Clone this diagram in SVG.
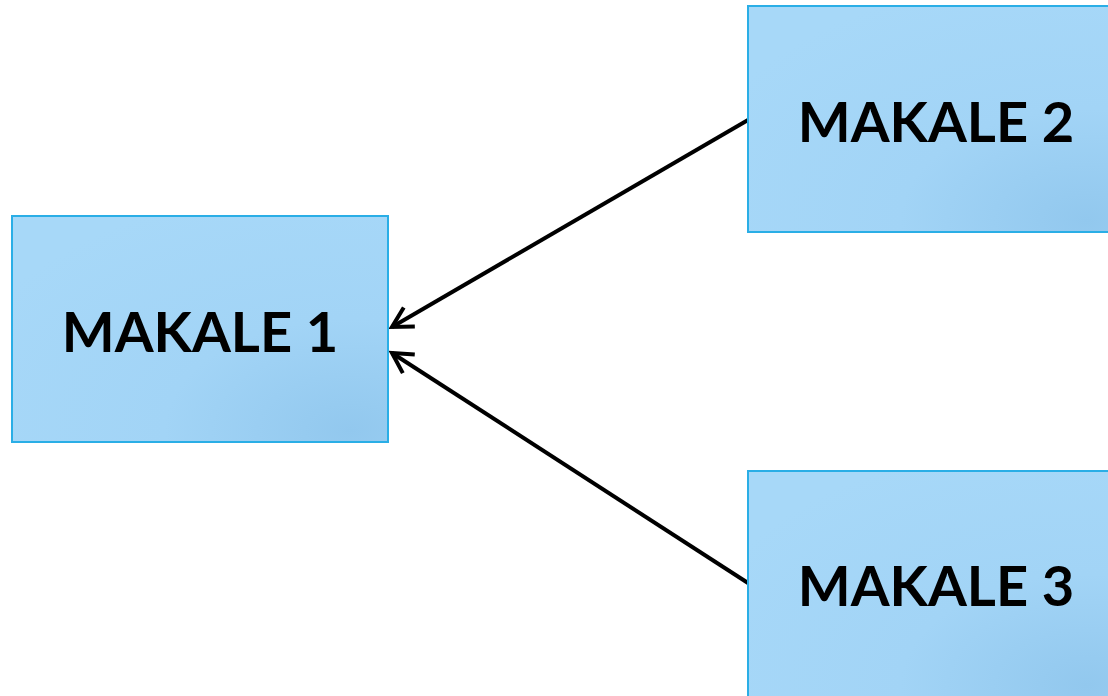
<svg xmlns="http://www.w3.org/2000/svg" width="1108" height="696" viewBox="0 0 1108 696">
<style>
.box{fill:url(#g);stroke:#2aaee6;stroke-width:2}
.lbl{font-family:Lato,"Open Sans","Liberation Sans",sans-serif;font-weight:bold;font-size:56px;fill:#000;text-anchor:middle}
.conn{stroke:#000;stroke-width:4;fill:none;marker-end:url(#arr)}
</style>
<defs>
<radialGradient id="g" cx="0.9" cy="0.95" r="1.1">
<stop offset="0" stop-color="#92c8ee"/>
<stop offset="0.45" stop-color="#a2d4f6"/>
<stop offset="1" stop-color="#a7d8f8"/>
</radialGradient>
<marker id="arr" markerWidth="30" markerHeight="30" refX="0" refY="0" orient="auto" markerUnits="userSpaceOnUse" viewBox="-30 -15 30 30" overflow="visible">
<path d="M-20,-11 L0,0 L-20,11" fill="none" stroke="#000" stroke-width="4" stroke-linejoin="miter"/>
</marker>
</defs>
<rect width="1108" height="696" fill="#fff"/>
<g id="connectors">
<line class="conn" x1="748" y1="120" x2="392" y2="327"/>
<line class="conn" x1="748" y1="583" x2="392" y2="353"/>
</g>
<g id="node1"><rect class="box" x="12" y="216" width="376" height="226"/><text class="lbl" x="200" y="352">MAKALE 1</text></g>
<g id="node2"><rect class="box" x="748" y="6" width="376" height="226"/><text class="lbl" x="936" y="142">MAKALE 2</text></g>
<g id="node3"><rect class="box" x="748" y="471" width="376" height="226"/><text class="lbl" x="936" y="606">MAKALE 3</text></g>
</svg>
